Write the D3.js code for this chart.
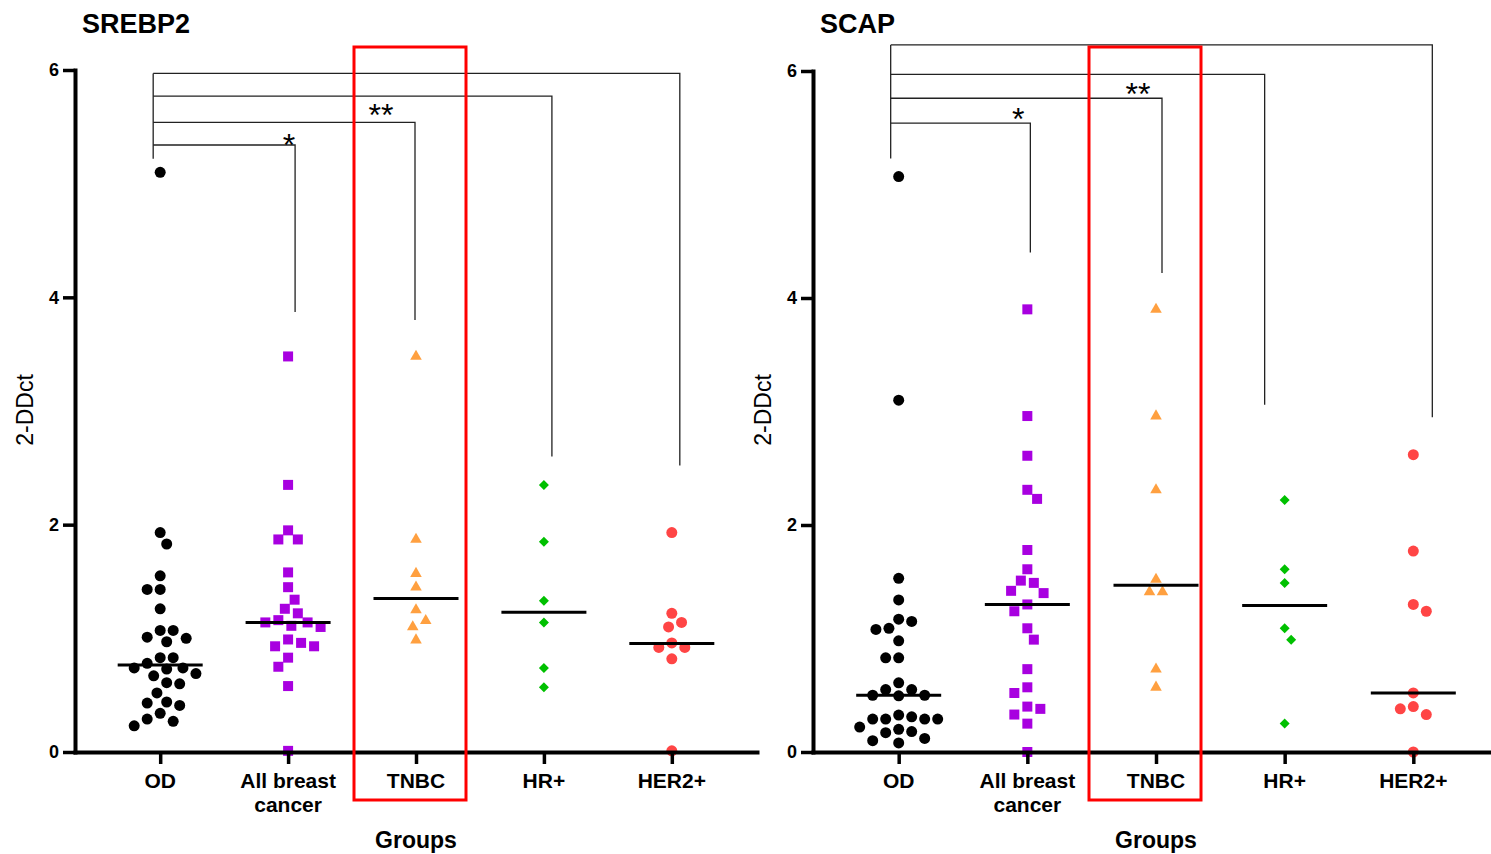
<!DOCTYPE html>
<html><head><meta charset="utf-8">
<script src="https://cdn.jsdelivr.net/npm/d3@7"></script>
<style>
body{margin:0;background:#fff}
text{font-family:"Liberation Sans",Arial,Helvetica,sans-serif;fill:#000}
</style>
</head><body>
<svg id="chart" width="1491" height="854"></svg>
<script>
// ---------- DATA ----------
const groups = ["OD", "All breast cancer", "TNBC", "HR+", "HER2+"];
const groupLabelLines = [["OD"], ["All breast", "cancer"], ["TNBC"], ["HR+"], ["HER2+"]];
const yTickValues = [0, 2, 4, 6];
const yLabel = "2-DDct";
const xLabel = "Groups";

// SREBP2 panel
const srebp2_OD = [5.10, 1.93, 1.83, 1.55, 1.43, 1.43, 1.26, 1.07, 1.07, 1.01, 1.00, 0.97, 0.83, 0.83, 0.78, 0.74, 0.74, 0.73, 0.69, 0.67, 0.61, 0.60, 0.52, 0.44, 0.43, 0.41, 0.34, 0.29, 0.27, 0.23];
const srebp2_All = [3.48, 2.35, 1.95, 1.87, 1.87, 1.58, 1.45, 1.34, 1.26, 1.22, 1.16, 1.14, 1.14, 1.11, 1.10, 0.99, 0.96, 0.93, 0.93, 0.83, 0.75, 0.58, 0.01];
const srebp2_TNBC = [3.48, 1.87, 1.57, 1.45, 1.25, 1.155, 1.10, 0.985];
const srebp2_HR = [2.35, 1.85, 1.33, 1.14, 0.74, 0.57];
const srebp2_HER2 = [1.93, 1.22, 1.14, 1.10, 0.96, 0.92, 0.92, 0.82, 0.01];
const srebp2_Medians = [0.765, 1.14, 1.35, 1.23, 0.955];

// SCAP panel
const scap_OD = [5.07, 3.10, 1.53, 1.34, 1.17, 1.15, 1.09, 1.08, 0.98, 0.83, 0.83, 0.61, 0.55, 0.55, 0.50, 0.50, 0.495, 0.325, 0.31, 0.29, 0.29, 0.29, 0.29, 0.22, 0.20, 0.18, 0.17, 0.12, 0.10, 0.08];
const scap_All = [3.90, 2.96, 2.61, 2.31, 2.23, 1.78, 1.61, 1.51, 1.49, 1.42, 1.40, 1.30, 1.24, 1.09, 0.99, 0.73, 0.57, 0.52, 0.40, 0.38, 0.33, 0.25, 0.00];
const scap_TNBC = [3.90, 2.96, 2.31, 1.52, 1.41, 1.41, 0.73, 0.57];
const scap_HR = [2.22, 1.61, 1.49, 1.09, 0.99, 0.25];
const scap_HER2 = [2.62, 1.77, 1.30, 1.24, 0.52, 0.40, 0.38, 0.33, 0.00];
const scap_Medians = [0.50, 1.30, 1.47, 1.29, 0.52];

// comparison brackets (values in data units): OD vs group
const srebp2_Brackets = [
  {to: "All breast cancer", top: 5.34, drop: 3.87, label: "*"},
  {to: "TNBC", top: 5.54, drop: 3.80, label: "**"},
  {to: "HR+", top: 5.77, drop: 2.60, label: ""},
  {to: "HER2+", top: 5.97, drop: 2.52, label: ""}
];
const srebp2_BracketBase = 5.22;
const scap_Brackets = [
  {to: "All breast cancer", top: 5.54, drop: 4.40, label: "*"},
  {to: "TNBC", top: 5.76, drop: 4.22, label: "**"},
  {to: "HR+", top: 5.97, drop: 3.06, label: ""},
  {to: "HER2+", top: 6.23, drop: 2.95, label: ""}
];
const scap_BracketBase = 5.23;

// ---------- STYLE / LAYOUT ----------
const markerStyles = [
  {shape: "circle", color: "#000000"},
  {shape: "square", color: "#A800E0"},
  {shape: "triangle", color: "#FFA040"},
  {shape: "diamond", color: "#00C000"},
  {shape: "circle", color: "#FF4545"}
];

const panels = [
  {title: "SREBP2", titleX: 82, axisX: 75, axisEnd: 757, yTop: 70,
   series: [srebp2_OD, srebp2_All, srebp2_TNBC, srebp2_HR, srebp2_HER2],
   medians: srebp2_Medians, brackets: srebp2_Brackets, base: srebp2_BracketBase,
   baseDx: -7, dropDx: [7, -1, 8, 8], labelDx: [-6, -34], labelDy: [11, 4],
   box: [-62, 50]},
  {title: "SCAP", titleX: 820, axisX: 813, axisEnd: 1499, yTop: 71,
   series: [scap_OD, scap_All, scap_TNBC, scap_HR, scap_HER2],
   medians: scap_Medians, brackets: scap_Brackets, base: scap_BracketBase,
   baseDx: -8, dropDx: [3, 6, -20, 19], labelDx: [-12, -24], labelDy: [7, 7],
   box: [-67, 45]}
];

const svg = d3.select("#chart");

function swarm(vals, y, step, minDist) {
  const pts = vals.map(v => ({v, py: y(v), dx: 0}));
  const order = pts.slice().sort((a, b) => b.v - a.v);
  const placed = [];
  let flip = 1;
  for (const p of order) {
    let best = null;
    for (let k = 0; k < 200 && best === null; k++) {
      const cands = k === 0 ? [0] : [flip * k * step, -flip * k * step];
      for (const c of cands) {
        if (placed.every(q => Math.hypot(q.dx - c, q.py - p.py) >= minDist)) { best = c; break; }
      }
    }
    if (best !== 0) flip = -flip;
    p.dx = best;
    placed.push(p);
  }
  return pts;
}

function symbolPath(shape) {
  if (shape === "circle") return d3.symbol(d3.symbolCircle, 95)();
  if (shape === "square") return d3.symbol(d3.symbolSquare, 100)();
  if (shape === "triangle") return d3.symbol(d3.symbolTriangle, 58)();
  if (shape === "diamond") return d3.symbol(d3.symbolSquare, 50)();
}

panels.forEach(P => {
  const g = svg.append("g");
  const y = d3.scaleLinear().domain([0, 6]).range([752, P.yTop]);
  const x = d3.scalePoint().domain(groups).range([P.axisX, P.axisEnd]).padding(0.666);

  // title
  g.append("text").attr("x", P.titleX).attr("y", 33)
    .attr("font-size", 27).attr("font-weight", "bold").text(P.title);

  // brackets
  const bg = g.append("g").attr("fill", "none").attr("stroke", "#222").attr("stroke-width", 1.3);
  const x0 = x("OD") + P.baseDx;
  const maxTop = d3.max(P.brackets, b => b.top);
  bg.append("line").attr("x1", x0).attr("x2", x0).attr("y1", y(maxTop)).attr("y2", y(P.base));
  P.brackets.forEach((b, i) => {
    const xd = x(b.to) + P.dropDx[i];
    bg.append("path").attr("d", `M${x0},${y(b.top)}H${xd}V${y(b.drop)}`);
    if (b.label) {
      g.append("text").attr("x", xd + P.labelDx[i]).attr("y", y(b.top) + P.labelDy[i])
        .attr("text-anchor", "middle").attr("font-size", 32).text(b.label);
    }
  });

  // points
  P.series.forEach((vals, gi) => {
    const st = markerStyles[gi];
    const pts = swarm(vals, y, 3.25, 13);
    const d = symbolPath(st.shape);
    g.append("g").selectAll("path").data(pts).join("path")
      .attr("d", d)
      .attr("fill", st.color)
      .attr("transform", p => `translate(${x(groups[gi]) + p.dx},${p.py})` + (st.shape === "diamond" ? " rotate(45)" : ""));
    // median line
    g.append("line")
      .attr("x1", x(groups[gi]) - 42.5).attr("x2", x(groups[gi]) + 42.5)
      .attr("y1", y(P.medians[gi])).attr("y2", y(P.medians[gi]))
      .attr("stroke", "#000").attr("stroke-width", 3);
  });

  // y axis
  const ya = g.append("g").attr("transform", `translate(${P.axisX},0)`)
    .call(d3.axisLeft(y).tickValues(yTickValues).tickFormat(d3.format("d"))
      .tickSize(12).tickSizeOuter(0).tickPadding(4));
  ya.select(".domain").attr("stroke-width", 4).attr("stroke-linecap", "square");
  ya.selectAll(".tick line").attr("stroke-width", 3.5);
  ya.selectAll(".tick text").attr("font-size", 18).attr("font-weight", "bold")
    .attr("font-family", "'Liberation Sans',Arial,sans-serif").attr("fill", "#000");

  // x axis
  const xa = g.append("g").attr("transform", "translate(0,752)")
    .call(d3.axisBottom(x).tickSize(12).tickSizeOuter(0).tickFormat(""));
  xa.select(".domain").attr("stroke-width", 4).attr("stroke-linecap", "square");
  xa.selectAll(".tick line").attr("stroke-width", 3.5);
  groups.forEach((gn, gi) => {
    const t = g.append("text").attr("text-anchor", "middle").attr("font-size", 21).attr("font-weight", "bold");
    groupLabelLines[gi].forEach((ln, li) => {
      t.append("tspan").attr("x", x(gn)).attr("y", 788 + li * 24).text(ln);
    });
  });

  // axis titles
  g.append("text").attr("transform", `translate(${P.axisX - 42},410) rotate(-90)`)
    .attr("text-anchor", "middle").attr("font-size", 23).text(yLabel);
  g.append("text").attr("x", x("TNBC")).attr("y", 848)
    .attr("text-anchor", "middle").attr("font-size", 23).attr("font-weight", "bold").text(xLabel);

  // highlight box around TNBC
  g.append("rect")
    .attr("x", x("TNBC") + P.box[0]).attr("y", 47)
    .attr("width", P.box[1] - P.box[0]).attr("height", 753)
    .attr("fill", "none").attr("stroke", "#FF0000").attr("stroke-width", 3);
});
</script>
</body></html>
